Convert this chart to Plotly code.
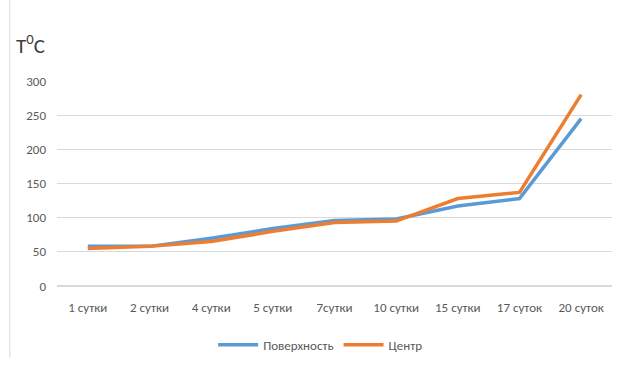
import plotly.graph_objects as go

categories = ["1 сутки", "2 сутки", "4 сутки", "5 сутки", "7сутки", "10 сутки", "15 сутки", "17 суток", "20 суток"]
surface = [58, 58, 70, 84, 96, 98, 117, 128, 245]
center = [55, 58, 65, 80, 93, 95, 128, 137, 280]

FONT = "Carlito, Liberation Sans Narrow, Arial, sans-serif"
fig = go.Figure()
fig.add_trace(go.Scatter(x=categories, y=surface, mode="lines", name="Поверхность",
                         line=dict(color="#5B9BD5", width=3.5)))
fig.add_trace(go.Scatter(x=categories, y=center, mode="lines", name="Центр",
                         line=dict(color="#ED7D31", width=3.5)))

fig.update_layout(
    width=619, height=365,
    margin=dict(l=57, r=7, t=81, b=78),
    paper_bgcolor="white", plot_bgcolor="white",
    font=dict(family=FONT, size=13, color="#595959"),
    showlegend=True,
    legend=dict(orientation="h", x=0.475, xanchor="center", y=-0.28, yanchor="middle",
                font=dict(size=13, color="#595959"), itemwidth=40),
    xaxis=dict(showgrid=False, showline=False, ticks="", tickfont=dict(size=13),
               range=[-0.5, 8.5], ticklabelstandoff=12),
    yaxis=dict(range=[0, 300], dtick=50, showgrid=True, gridcolor="#D9D9D9",
               zeroline=True, zerolinecolor="#D9D9D9", showline=False,
               tickfont=dict(size=13), ticklabelstandoff=10),
    annotations=[dict(text="T<sup>0</sup>C", xref="paper", yref="paper",
                      x=-0.078, y=1.18, xanchor="left", yanchor="middle",
                      showarrow=False, font=dict(size=21, color="#404040", family=FONT))],
    shapes=[dict(type="line", xref="paper", yref="paper", x0=-0.085, x1=-0.085,
                 y0=-0.35, y1=1.4, line=dict(color="#D9D9D9", width=1))],
)
fig.write_html("out.html")
